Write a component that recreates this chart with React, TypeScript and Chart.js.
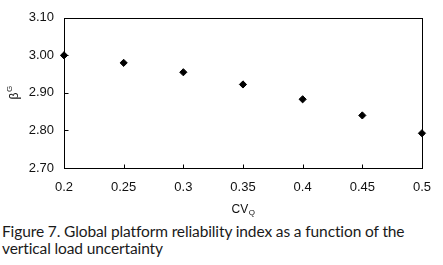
import React, { useEffect, useRef } from "react";
import { Chart, registerables } from "chart.js";

Chart.register(...registerables);

const cvQ = [0.2, 0.25, 0.3, 0.35, 0.4, 0.45, 0.5];
const betaG = [3.0, 2.98, 2.955, 2.9225, 2.883, 2.84, 2.7925];
const xTickLabels = ["0.2", "0.25", "0.3", "0.35", "0.4", "0.45", "0.5"];
const yTickLabels = ["2.70", "2.80", "2.90", "3.00", "3.10"];
const captionLines = [
  "Figure 7. Global platform reliability index as a function of the",
  "vertical load uncertainty",
];

const FONT = "'Liberation Sans', Arial, sans-serif";

const framePlugin = {
  id: "frame",
  beforeDatasetsDraw(chart: any) {
    const { ctx, chartArea: a, scales } = chart;
    ctx.save();
    ctx.strokeStyle = "#000";
    ctx.lineWidth = 1;
    const L = Math.round(a.left) + 0.5;
    const R = Math.round(a.right) + 0.5;
    const T = Math.round(a.top) + 0.5;
    const B = Math.round(a.bottom) + 0.5;
    ctx.strokeRect(L, T, R - L, B - T);
    ctx.beginPath();
    scales.x.ticks.forEach((t: any) => {
      const px = Math.round(scales.x.getPixelForValue(t.value)) + 0.5;
      ctx.moveTo(px, B);
      ctx.lineTo(px, B - 4);
    });
    scales.y.ticks.forEach((t: any) => {
      const py = Math.round(scales.y.getPixelForValue(t.value)) + 0.5;
      ctx.moveTo(L, py);
      ctx.lineTo(L + 4, py);
    });
    ctx.stroke();
    ctx.restore();
  },
  afterDraw(chart: any) {
    const { ctx, chartArea: a } = chart;
    ctx.save();
    ctx.fillStyle = "#111";
    // x title: CV with subscript Q
    ctx.textBaseline = "alphabetic";
    ctx.font = `12px ${FONT}`;
    const mainW = ctx.measureText("CV").width;
    ctx.font = `8px ${FONT}`;
    const subW = ctx.measureText("Q").width;
    const cx = (a.left + a.right) / 2;
    const startX = cx - (mainW + subW) / 2;
    ctx.font = `12px ${FONT}`;
    ctx.textAlign = "left";
    ctx.fillText("CV", startX, 213);
    ctx.font = `8px ${FONT}`;
    ctx.fillText("Q", startX + mainW + 0.5, 215);
    // y title: beta with superscript G, rotated
    ctx.translate(19, (a.top + a.bottom) / 2);
    ctx.rotate(-Math.PI / 2);
    ctx.font = `12px ${FONT}`;
    const bW = ctx.measureText("β").width;
    ctx.font = `8px ${FONT}`;
    const gW = ctx.measureText("G").width;
    const sx = -(bW + gW) / 2;
    ctx.font = `12px ${FONT}`;
    ctx.fillText("β", sx, -1);
    ctx.font = `8px ${FONT}`;
    ctx.fillText("G", sx + bW + 0.5, -7);
    ctx.restore();
  },
};

export default function App() {
  const ref = useRef<HTMLCanvasElement | null>(null);
  useEffect(() => {
    if (!ref.current) return;
    const chart = new Chart(ref.current, {
      type: "scatter",
      data: {
        datasets: [
          {
            data: cvQ.map((x, i) => ({ x, y: betaG[i] })),
            pointStyle: "rectRot",
            pointRadius: 3.6,
            backgroundColor: "#000",
            borderColor: "#000",
            borderWidth: 1,
            clip: false as any,
          },
        ],
      },
      options: {
        responsive: false,
        animation: false,
        layout: { padding: { top: 8, right: 12, left: 0, bottom: 0 } },
        plugins: {
          legend: { display: false },
          tooltip: { enabled: false },
        },
        scales: {
          x: {
            type: "linear",
            min: 0.2,
            max: 0.5,
            afterFit: (s: any) => {
              s.height = 50;
            },
            ticks: {
              stepSize: 0.05,
              padding: 12,
              color: "#111",
              font: { family: FONT, size: 13 },
              maxRotation: 0,
              callback: (_v: any, i: number) => xTickLabels[i],
            },
            grid: { display: false, drawTicks: false },
            border: { display: false },
          },
          y: {
            type: "linear",
            min: 2.7,
            max: 3.1,
            afterFit: (s: any) => {
              s.width = 64;
            },
            ticks: {
              stepSize: 0.1,
              padding: 10,
              color: "#111",
              font: { family: FONT, size: 13 },
              callback: (_v: any, i: number) => yTickLabels[i],
            },
            grid: { display: false, drawTicks: false },
            border: { display: false },
          },
        },
      },
      plugins: [framePlugin],
    });
    return () => chart.destroy();
  }, []);

  return (
    <div style={{ position: "absolute", left: 0, top: 0, width: 443, height: 265, background: "#fff" }}>
      <canvas ref={ref} width={443} height={218} style={{ display: "block" }} />
      <div
        style={{
          position: "absolute",
          left: 2,
          top: 223,
          fontFamily: "Lato, 'Open Sans', sans-serif",
          fontSize: 15.5,
          letterSpacing: "-0.12px",
          lineHeight: "17px",
          color: "#1a1a1a",
          whiteSpace: "nowrap",
        }}
      >
        {captionLines.map((l, i) => (
          <div key={i}>{l}</div>
        ))}
      </div>
    </div>
  );
}
